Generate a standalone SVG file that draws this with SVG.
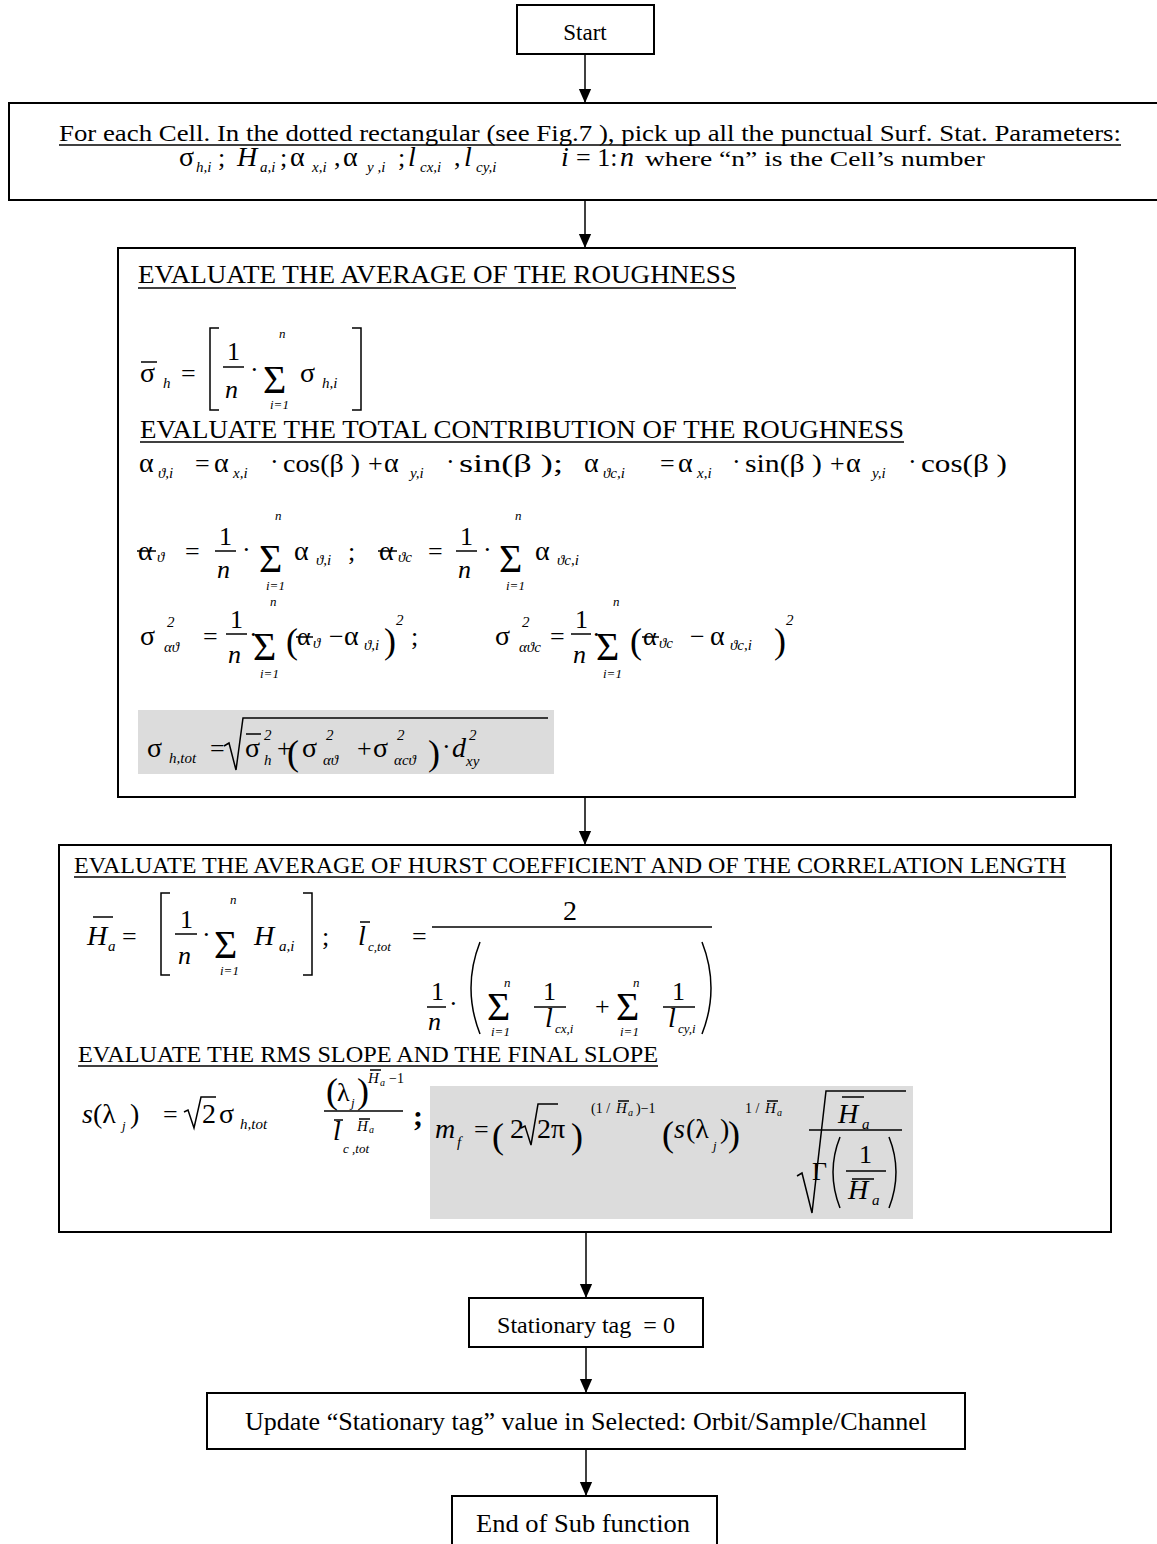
<svg xmlns="http://www.w3.org/2000/svg" width="1157" height="1544" viewBox="0 0 1157 1544">
<style>
text{font-family:"Liberation Serif","Times New Roman",serif;fill:#000}
.box{fill:#fff;stroke:#000;stroke-width:2}
.grey{fill:#dcdcdc}
.ln{stroke:#000;stroke-width:1.5;fill:none}
.b{font-size:26px}
.g{font-size:28px}
.it{font-style:italic}
.s{font-size:15px;font-style:italic}
.ss{font-size:13px;font-style:italic}
.sig{font-size:40px}
.par{font-size:36px}
</style>
<defs>
<marker id="ah" markerUnits="userSpaceOnUse" markerWidth="14" markerHeight="16" refX="16" refY="7" orient="auto" viewBox="0 0 16 14">
<path d="M0,0 L16,7 L0,14 Z" fill="#000"/>
</marker>
</defs>

<g id="connectors">
<line class="ln" x1="585" y1="54" x2="585" y2="103" marker-end="url(#ah)"/>
<line class="ln" x1="585" y1="200" x2="585" y2="248" marker-end="url(#ah)"/>
<line class="ln" x1="585" y1="797" x2="585" y2="845" marker-end="url(#ah)"/>
<line class="ln" x1="586" y1="1232" x2="586" y2="1298" marker-end="url(#ah)"/>
<line class="ln" x1="586" y1="1347" x2="586" y2="1393" marker-end="url(#ah)"/>
<line class="ln" x1="586" y1="1449" x2="586" y2="1496" marker-end="url(#ah)"/>
</g>

<g id="start">
<rect class="box" x="517" y="5" width="137" height="49"/>
<text x="585" y="40" font-size="23" text-anchor="middle">Start</text>
</g>

<g id="pickup">
<rect class="box" x="9" y="103" width="1170" height="97"/>
<text x="59" y="141" font-size="23" textLength="1062" lengthAdjust="spacingAndGlyphs">For each Cell. In the dotted rectangular (see Fig.7 ), pick up all the punctual Surf. Stat. Parameters:</text>
<line class="ln" x1="59" y1="145" x2="1121" y2="145"/>
<text x="179" y="166" class="g">σ</text><text x="196" y="172" class="s">h,i</text>
<text x="218" y="166" class="b">;</text>
<text x="237" y="166" class="g it">H</text><text x="260" y="172" class="s">a,i</text>
<text x="280" y="166" class="b">;</text>
<text x="290" y="166" class="g">α</text><text x="312" y="172" class="s">x,i</text>
<text x="334" y="166" class="b">,</text>
<text x="343" y="166" class="g">α</text><text x="367" y="172" class="s">y ,i</text>
<text x="398" y="166" class="b">;</text>
<text x="408" y="166" class="g it">l</text><text x="420" y="172" class="s">cx,i</text>
<text x="454" y="166" class="b">,</text>
<text x="464" y="166" class="g it">l</text><text x="476" y="172" class="s">cy,i</text>
<text x="561" y="166" class="g it">i</text>
<text x="576" y="166" class="b">= 1:</text>
<text x="620" y="166" class="g it">n</text>
<text x="645" y="166" font-size="20" textLength="340" lengthAdjust="spacingAndGlyphs">where “n” is the Cell’s number</text>
</g>

<g id="roughness">
<rect class="box" x="118" y="248" width="957" height="549"/>
<text x="138" y="283" font-size="25" textLength="598" lengthAdjust="spacingAndGlyphs">EVALUATE THE AVERAGE OF THE ROUGHNESS</text>
<line class="ln" x1="138" y1="288" x2="736" y2="288"/>
<text x="140" y="382" class="g">σ</text><line class="ln" x1="141" y1="362" x2="157" y2="362"/>
<text x="163" y="388" class="s">h</text>
<text x="181" y="382" class="b">=</text>
<path class="ln" d="M219,328 L210,328 L210,410 L219,410"/>
<text x="227" y="360" class="b">1</text><line class="ln" x1="223" y1="367" x2="244" y2="367"/>
<text x="225" y="398" class="b it">n</text>
<text x="250" y="378" class="b">·</text>
<text x="263" y="393" class="sig">Σ</text>
<text x="279" y="338" class="ss">n</text><text x="270" y="409" class="ss">i=1</text>
<text x="300" y="382" class="g">σ</text><text x="322" y="388" class="s">h,i</text>
<path class="ln" d="M352,328 L361,328 L361,410 L352,410"/>

<text x="140" y="438" font-size="25" textLength="764" lengthAdjust="spacingAndGlyphs">EVALUATE THE TOTAL CONTRIBUTION OF THE ROUGHNESS</text>
<line class="ln" x1="140" y1="442" x2="904" y2="442"/>

<text x="139" y="472" class="g">α</text><text x="158" y="478" class="s">ϑ,i</text>
<text x="195" y="472" class="b">=</text>
<text x="214" y="472" class="g">α</text><text x="233" y="478" class="s">x,i</text>
<text x="270" y="470" class="b">·</text>
<text x="283" y="472" class="b" textLength="77" lengthAdjust="spacingAndGlyphs">cos(β )</text>
<text x="368" y="472" class="b">+</text>
<text x="384" y="472" class="g">α</text><text x="410" y="478" class="s">y,i</text>
<text x="446" y="470" class="b">·</text>
<text x="459" y="472" class="b" textLength="104" lengthAdjust="spacingAndGlyphs">sin(β );</text>
<text x="584" y="472" class="g">α</text><text x="603" y="478" class="s">ϑc,i</text>
<text x="660" y="472" class="b">=</text>
<text x="678" y="472" class="g">α</text><text x="697" y="478" class="s">x,i</text>
<text x="732" y="470" class="b">·</text>
<text x="745" y="472" class="b" textLength="77" lengthAdjust="spacingAndGlyphs">sin(β )</text>
<text x="830" y="472" class="b">+</text>
<text x="846" y="472" class="g">α</text><text x="872" y="478" class="s">y,i</text>
<text x="908" y="470" class="b">·</text>
<text x="921" y="472" class="b" textLength="86" lengthAdjust="spacingAndGlyphs">cos(β )</text>

<text x="138" y="560" class="g">α</text><line class="ln" x1="137" y1="551" x2="156" y2="551"/>
<text x="157" y="562" class="s">ϑ</text>
<text x="185" y="560" class="b">=</text>
<text x="219" y="545" class="b">1</text><line class="ln" x1="215" y1="551" x2="236" y2="551"/>
<text x="217" y="578" class="b it">n</text>
<text x="242" y="558" class="b">·</text>
<text x="259" y="572" class="sig">Σ</text>
<text x="275" y="520" class="ss">n</text><text x="266" y="590" class="ss">i=1</text>
<text x="294" y="560" class="g">α</text><text x="316" y="565" class="s">ϑ,i</text>
<text x="348" y="560" class="b">;</text>
<text x="379" y="560" class="g">α</text><line class="ln" x1="378" y1="551" x2="397" y2="551"/>
<text x="398" y="562" class="s">ϑc</text>
<text x="428" y="560" class="b">=</text>
<text x="460" y="545" class="b">1</text><line class="ln" x1="456" y1="551" x2="477" y2="551"/>
<text x="458" y="578" class="b it">n</text>
<text x="483" y="558" class="b">·</text>
<text x="499" y="572" class="sig">Σ</text>
<text x="515" y="520" class="ss">n</text><text x="506" y="590" class="ss">i=1</text>
<text x="535" y="560" class="g">α</text><text x="557" y="565" class="s">ϑc,i</text>

<text x="140" y="645" class="g">σ</text><text x="167" y="627" class="s" font-style="normal">2</text><text x="164" y="652" class="s" font-style="normal">αϑ</text>
<text x="203" y="645" class="b">=</text>
<text x="230" y="628" class="b">1</text><line class="ln" x1="226" y1="634" x2="247" y2="634"/>
<text x="228" y="663" class="b it">n</text>
<text x="249" y="643" class="b">·</text>
<text x="253" y="660" class="sig" font-size="42">Σ</text>
<text x="270" y="606" class="ss">n</text><text x="260" y="678" class="ss">i=1</text>
<text x="286" y="653" class="par">(</text>
<text x="297" y="645" class="b">α</text><line class="ln" x1="296" y1="637" x2="313" y2="637"/>
<text x="313" y="648" class="s" font-style="normal">ϑ</text>
<text x="329" y="645" class="b">−</text>
<text x="344" y="645" class="g">α</text><text x="364" y="650" class="s">ϑ,i</text>
<text x="384" y="653" class="par">)</text><text x="396" y="625" class="s" font-style="normal">2</text>
<text x="411" y="645" class="b">;</text>
<text x="495" y="645" class="g">σ</text><text x="522" y="627" class="s" font-style="normal">2</text><text x="519" y="652" class="s" font-style="normal">αϑc</text>
<text x="550" y="645" class="b">=</text>
<text x="575" y="628" class="b">1</text><line class="ln" x1="571" y1="634" x2="591" y2="634"/>
<text x="573" y="663" class="b it">n</text>
<text x="592" y="643" class="b">·</text>
<text x="596" y="660" class="sig" font-size="42">Σ</text>
<text x="613" y="606" class="ss">n</text><text x="603" y="678" class="ss">i=1</text>
<text x="630" y="653" class="par">(</text>
<text x="643" y="645" class="b">α</text><line class="ln" x1="642" y1="637" x2="659" y2="637"/>
<text x="659" y="648" class="s" font-style="normal">ϑc</text>
<text x="690" y="645" class="b">−</text>
<text x="710" y="645" class="g">α</text><text x="730" y="650" class="s">ϑc,i</text>
<text x="774" y="653" class="par">)</text><text x="786" y="625" class="s" font-style="normal">2</text>

<rect class="grey" x="138" y="710" width="416" height="64"/>
<text x="147" y="757" class="g">σ</text><text x="169" y="763" class="s">h,tot</text>
<text x="210" y="757" class="b">=</text>
<path class="ln" d="M224,746 L229,743 L236,770 L243,718 L548,718"/>
<text x="245" y="757" class="g">σ</text><line class="ln" x1="246" y1="734" x2="261" y2="734"/>
<text x="264" y="740" class="s" font-style="normal">2</text><text x="264" y="765" class="s">h</text>
<text x="277" y="757" class="b">+</text>
<text x="287" y="765" class="par" font-size="42">(</text>
<text x="302" y="757" class="g">σ</text><text x="326" y="740" class="s" font-style="normal">2</text><text x="323" y="765" class="s" font-style="normal">αϑ</text>
<text x="357" y="757" class="b">+</text>
<text x="373" y="757" class="g">σ</text><text x="397" y="740" class="s" font-style="normal">2</text><text x="394" y="765" class="s" font-style="normal">α<tspan font-style="italic">c</tspan>ϑ</text>
<text x="428" y="765" class="par" font-size="42">)</text>
<text x="442" y="755" class="b">·</text>
<text x="452" y="757" class="g it">d</text><text x="469" y="740" class="s" font-style="normal">2</text><text x="466" y="766" class="s">xy</text>
</g>

<g id="hurst">
<rect class="box" x="59" y="845" width="1052" height="387"/>
<text x="74" y="873" font-size="23" textLength="992" lengthAdjust="spacingAndGlyphs">EVALUATE THE AVERAGE OF HURST COEFFICIENT AND OF THE CORRELATION LENGTH</text>
<line class="ln" x1="74" y1="877" x2="1066" y2="877"/>
<text x="87" y="945" class="g it">H</text><line class="ln" x1="93" y1="917" x2="113" y2="917"/>
<text x="108" y="951" class="s">a</text>
<text x="122" y="945" class="b">=</text>
<path class="ln" d="M170,893 L161,893 L161,975 L170,975"/>
<text x="180" y="928" class="b">1</text><line class="ln" x1="175" y1="934" x2="197" y2="934"/>
<text x="178" y="964" class="b it">n</text>
<text x="202" y="943" class="b">·</text>
<text x="214" y="958" class="sig">Σ</text>
<text x="230" y="904" class="ss">n</text><text x="220" y="975" class="ss">i=1</text>
<text x="254" y="945" class="g it">H</text><text x="279" y="951" class="s">a,i</text>
<path class="ln" d="M303,893 L312,893 L312,975 L303,975"/>
<text x="322" y="945" class="b">;</text>
<text x="358" y="945" class="g it">l</text><line class="ln" x1="360" y1="922" x2="370" y2="922"/>
<text x="368" y="951" class="ss">c,tot</text>
<text x="412" y="945" class="b">=</text>
<line class="ln" x1="432" y1="927" x2="712" y2="927"/>
<text x="563" y="920" class="g">2</text>
<text x="431" y="1000" class="b">1</text><line class="ln" x1="427" y1="1007" x2="446" y2="1007"/>
<text x="428" y="1030" class="b it">n</text>
<text x="449" y="1012" class="b">·</text>
<path class="ln" d="M480,942 Q462,988 480,1034"/>
<text x="487" y="1020" class="sig" font-size="38">Σ</text>
<text x="504" y="987" class="ss">n</text><text x="491" y="1036" class="ss">i=1</text>
<text x="543" y="1000" class="b">1</text><line class="ln" x1="534" y1="1007" x2="566" y2="1007"/>
<text x="545" y="1027" class="g it">l</text><text x="555" y="1033" class="ss">cx,i</text>
<text x="595" y="1015" class="b">+</text>
<text x="616" y="1020" class="sig" font-size="38">Σ</text>
<text x="633" y="987" class="ss">n</text><text x="620" y="1036" class="ss">i=1</text>
<text x="672" y="1000" class="b">1</text><line class="ln" x1="663" y1="1007" x2="695" y2="1007"/>
<text x="668" y="1027" class="g it">l</text><text x="678" y="1033" class="ss">cy,i</text>
<path class="ln" d="M702,942 Q720,988 702,1034"/>

<text x="78" y="1062" font-size="23" textLength="580" lengthAdjust="spacingAndGlyphs">EVALUATE THE RMS SLOPE AND THE FINAL SLOPE</text>
<line class="ln" x1="78" y1="1066" x2="658" y2="1066"/>

<text x="82" y="1123" class="g"><tspan font-style="italic">s</tspan>(λ</text><text x="122" y="1130" class="ss">j</text><text x="130" y="1123" class="g">)</text>
<text x="163" y="1123" class="b">=</text>
<path class="ln" d="M184,1112 L188,1110 L194,1128 L201,1097 L216,1097"/>
<text x="202" y="1123" class="g">2</text>
<text x="219" y="1123" class="g">σ</text><text x="240" y="1129" class="s">h,tot</text>
<text x="326" y="1103" class="par" font-size="30">(</text>
<text x="337" y="1101" class="b">λ</text><text x="351" y="1107" class="ss">j</text>
<text x="357" y="1103" class="par" font-size="30">)</text>
<text x="368" y="1083" class="s">H</text><line class="ln" x1="370" y1="1070" x2="381" y2="1070"/>
<text x="380" y="1086" font-size="10" font-style="italic">a</text><text x="389" y="1083" font-size="14">−1</text>
<line class="ln" x1="324" y1="1111" x2="403" y2="1111"/>
<text x="333" y="1140" class="g it">l</text><line class="ln" x1="334" y1="1120" x2="343" y2="1120"/>
<text x="343" y="1153" class="ss">c ,tot</text>
<text x="357" y="1131" class="s">H</text><line class="ln" x1="359" y1="1119" x2="370" y2="1119"/>
<text x="369" y="1133" font-size="10" font-style="italic">a</text>
<text x="413" y="1126" font-size="30" font-weight="bold">;</text>

<rect class="grey" x="430" y="1086" width="483" height="133"/>
<text x="435" y="1138" class="g it">m</text><text x="457" y="1147" class="s">f</text>
<text x="474" y="1138" class="b">=</text>
<text x="492" y="1148" class="par" font-size="46">(</text>
<text x="510" y="1138" class="g">2</text>
<path class="ln" d="M521,1128 L525,1126 L531,1145 L538,1104 L558,1104"/>
<text x="537" y="1138" class="g">2π</text>
<text x="571" y="1148" class="par" font-size="46">)</text>
<text x="591" y="1113" font-size="14">(1 / </text>
<text x="616" y="1113" class="s">H</text><line class="ln" x1="618" y1="1101" x2="629" y2="1101"/>
<text x="628" y="1116" font-size="10" font-style="italic">a</text><text x="636" y="1113" font-size="14">)−1</text>
<text x="662" y="1146" class="par">(</text>
<text x="674" y="1138" class="g it">s</text><text x="686" y="1138" class="g">(λ</text>
<text x="713" y="1150" class="ss">j</text><text x="720" y="1138" class="g">)</text>
<text x="728" y="1146" class="par">)</text>
<text x="745" y="1113" font-size="14">1 / </text>
<text x="765" y="1113" class="s">H</text><line class="ln" x1="767" y1="1101" x2="778" y2="1101"/>
<text x="777" y="1116" font-size="10" font-style="italic">a</text>
<path class="ln" d="M797,1176 L802,1173 L812,1213 L826,1091 L906,1091"/>
<text x="838" y="1123" class="g it">H</text><line class="ln" x1="842" y1="1097" x2="864" y2="1097"/>
<text x="862" y="1129" class="s">a</text>
<line class="ln" x1="809" y1="1130" x2="902" y2="1130"/>
<text x="812" y="1180" class="b">Γ</text>
<path class="ln" d="M840,1137 Q826,1172 840,1208"/>
<path class="ln" d="M889,1137 Q903,1172 889,1208"/>
<text x="859" y="1163" class="b">1</text><line class="ln" x1="846" y1="1171" x2="886" y2="1171"/>
<text x="848" y="1199" class="g it">H</text><line class="ln" x1="852" y1="1179" x2="874" y2="1179"/>
<text x="872" y="1205" class="s">a</text>
</g>

<g id="stationary">
<rect class="box" x="469" y="1298" width="234" height="49"/>
<text x="497" y="1333" font-size="24" textLength="178" lengthAdjust="spacingAndGlyphs" xml:space="preserve">Stationary tag  = 0</text>
</g>

<g id="update">
<rect class="box" x="207" y="1393" width="758" height="56"/>
<text x="586" y="1430" font-size="26" text-anchor="middle" textLength="682" lengthAdjust="spacingAndGlyphs">Update “Stationary tag” value in Selected: Orbit/Sample/Channel</text>
</g>

<g id="end">
<rect class="box" x="452" y="1496" width="265" height="52"/>
<text x="476" y="1532" font-size="26" textLength="214" lengthAdjust="spacingAndGlyphs">End of Sub function</text>
</g>
</svg>
